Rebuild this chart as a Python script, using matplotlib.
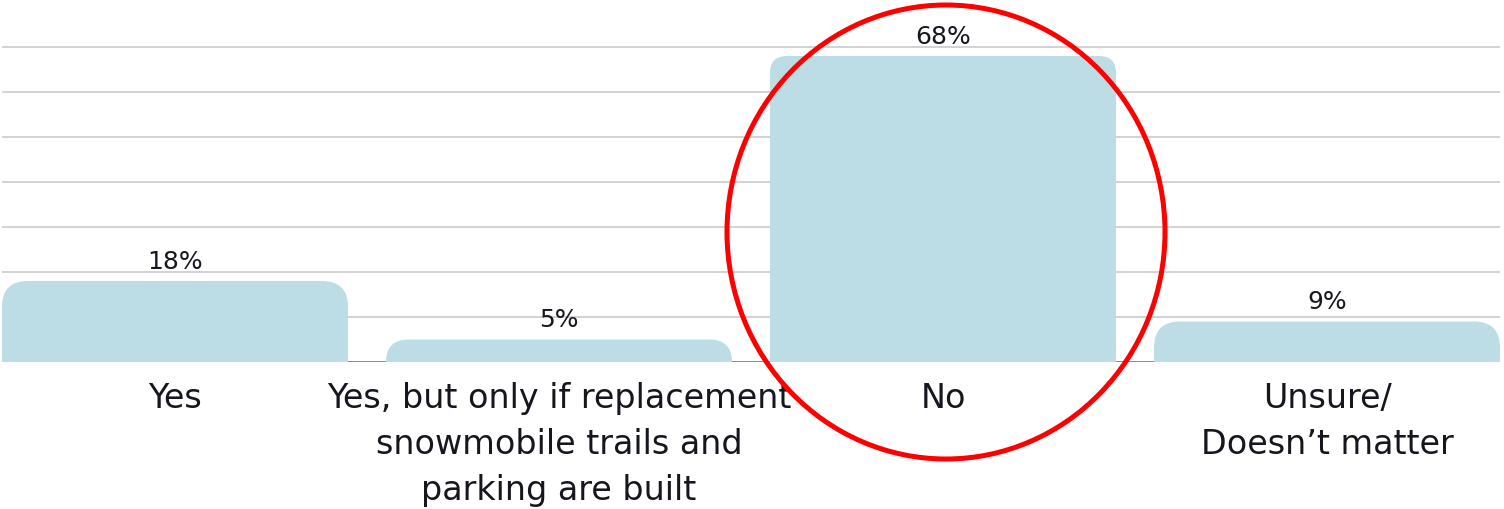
import matplotlib
matplotlib.use("Agg")
import matplotlib.pyplot as plt
from matplotlib.path import Path
from matplotlib.patches import PathPatch, Ellipse

categories = [
    "Yes",
    "Yes, but only if replacement\nsnowmobile trails and\nparking are built",
    "No",
    "Unsure/\nDoesn\u2019t matter",
]
values = [18, 5, 68, 9]
value_labels = ["18%", "5%", "68%", "9%"]
grid_levels = [10, 20, 30, 40, 50, 60, 70]

BAR_COLOR = "#bcdde5"
TEXT_COLOR = "#16161f"
FONT = ["DejaVu Sans"]
corner_px = [26, 24, 17, 26]

W, H = 1504, 510
fig = plt.figure(figsize=(W / 100, H / 100), dpi=100)
ax = fig.add_axes([2 / W, 147 / H, 1498 / W, 363 / H])
ax.set_xlim(-0.4505, 3.4505)
ax.set_ylim(0, 363 / 4.5)

for s in ax.spines.values():
    s.set_visible(False)
ax.set_yticks([])

for g in grid_levels:
    ax.axhline(g, color="#cfcfcf", lw=1.3, zorder=0)
ax.axhline(0, color="#8a8a8a", lw=1.4, zorder=0)

xs = list(range(len(categories)))
bars = ax.bar(xs, values, width=0.901, color=BAR_COLOR, zorder=2)

fig.canvas.draw()
inv = ax.transData.inverted()
for rect, r in zip(bars, corner_px):
    rect.set_visible(False)
    x0, y0 = ax.transData.transform((rect.get_x(), 0))
    x1, y1 = ax.transData.transform((rect.get_x() + rect.get_width(), rect.get_height()))
    rr = min(r, y1 - y0, (x1 - x0) / 2)
    verts = [(x0, y0), (x0, y1 - rr), (x0, y1), (x0 + rr, y1),
             (x1 - rr, y1), (x1, y1), (x1, y1 - rr), (x1, y0), (x0, y0)]
    codes = [Path.MOVETO, Path.LINETO, Path.CURVE3, Path.CURVE3,
             Path.LINETO, Path.CURVE3, Path.CURVE3, Path.LINETO, Path.CLOSEPOLY]
    path = Path(inv.transform(verts), codes)
    ax.add_patch(PathPatch(path, facecolor=BAR_COLOR, edgecolor="none", zorder=2))

for x, v, lbl in zip(xs, values, value_labels):
    ax.annotate(lbl, (x, v), xytext=(0, 9.5), textcoords="offset points",
                ha="center", va="baseline", fontsize=18, color=TEXT_COLOR,
                family=FONT, zorder=3)

ax.set_xticks(xs)
ax.set_xticklabels(categories, fontsize=24, color=TEXT_COLOR, family=FONT,
                   linespacing=1.5, multialignment="center")
ax.tick_params(axis="x", length=0, pad=14)

circle = Ellipse((946 / W, 277 / H), 438 / W, 454 / H, transform=fig.transFigure,
                 fill=False, edgecolor="#ff0000", lw=3.6, zorder=10, clip_on=False)
ax.add_patch(circle)

fig.savefig("out.png", dpi=100, facecolor="white")
